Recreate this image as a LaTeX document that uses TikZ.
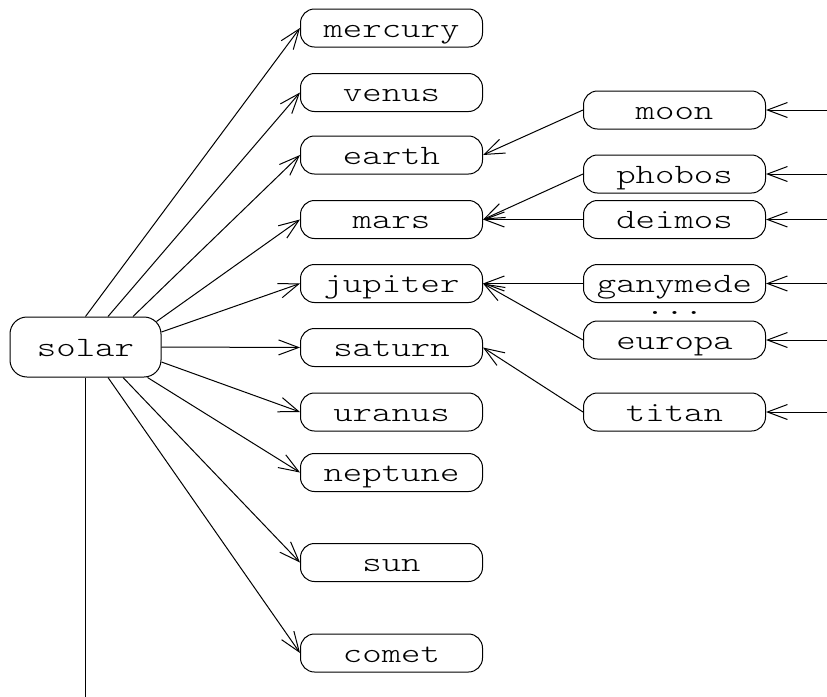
\documentclass[tikz,border=0pt]{standalone}
\usepackage{fontspec}
\setmonofont[FakeStretch=1.32]{Latin Modern Mono Light}
\usetikzlibrary{arrows.meta,calc}
\begin{document}
\begin{tikzpicture}[x=0.5pt,y=-0.5pt,
  lbl/.style={font=\fontsize{14}{16}\selectfont\ttfamily, text height=10pt, text depth=1pt, inner sep=0pt},
  body/.style={lbl, draw, line width=0.5pt, rounded corners=7pt, minimum width=91pt, minimum height=19pt},
  hub/.style={lbl, draw, line width=0.5pt, rounded corners=8.5pt, minimum width=75.5pt, minimum height=30pt},
  link/.style={line width=0.5pt, -{Straight Barb[length=10pt,width=7.5pt]}},
  plain/.style={line width=0.5pt}]
\useasboundingbox (0,0) rectangle (827,697);
% hub
\node[hub] (solar) at (85.5,347) {solar};
% planets
\node[body] (mercury) at (391.5,28) {mercury};
\node[body] (venus) at (391.5,92.5) {venus};
\node[body] (earth) at (391.5,155) {earth};
\node[body] (mars) at (391.5,219.5) {mars};
\node[body] (jupiter) at (391.5,283.5) {jupiter};
\node[body] (saturn) at (391.5,347.5) {saturn};
\node[body] (uranus) at (391.5,412) {uranus};
\node[body] (neptune) at (391.5,472.5) {neptune};
\node[body] (sun) at (391.5,562.5) {sun};
\node[body] (comet) at (391.5,653) {comet};
% moons
\node[body] (moon) at (674.5,110) {moon};
\node[body] (phobos) at (674.5,174) {phobos};
\node[body] (deimos) at (674.5,219.5) {deimos};
\node[body] (ganymede) at (674.5,283.5) {ganymede};
\node[lbl, text height=, text depth=, anchor=base] (dots) at (674.5,314.5) {...};
\node[body] (europa) at (674.5,340) {europa};
\node[body] (titan) at (674.5,412) {titan};
% free ends on the right edge and the bottom
\coordinate (rmoon) at (827,110);
\coordinate (rphobos) at (827,174);
\coordinate (rdeimos) at (827,219.5);
\coordinate (rganymede) at (827,283.5);
\coordinate (reuropa) at (827,340);
\coordinate (rtitan) at (827,412);
\coordinate (tail) at (85.5,697);
% solar to planets
\draw[link] (solar.north) -- (mercury.west);
\draw[link] ($(solar.north)+(22.5,0)$) -- (venus.west);
\draw[link] ($(solar.north)+(47.5,0)$) -- (earth.west);
\draw[link] ($(solar.north east)+(-5,5)$) -- (mars.west);
\draw[link] ($(solar.east)+(0,-15)$) -- (jupiter.west);
\draw[link] (solar.east) -- (saturn.west);
\draw[link] ($(solar.east)+(0,15)$) -- (uranus.west);
\draw[link] ($(solar.south east)+(-14,0)$) -- (neptune.west);
\draw[link] ($(solar.south)+(37.5,0)$) -- (sun.west);
\draw[link] ($(solar.south)+(22.5,0)$) -- (comet.west);
\draw[plain] (solar.south) -- (tail);
% moons to planets
\draw[link] (moon.west) -- (earth.east);
\draw[link] (phobos.west) -- (mars.east);
\draw[link] (deimos.west) -- (mars.east);
\draw[link] (ganymede.west) -- (jupiter.east);
\draw[link] (europa.west) -- (jupiter.east);
\draw[link] (titan.west) -- (saturn.east);
% right edge into moons
\draw[link] (rmoon) -- (moon.east);
\draw[link] (rphobos) -- (phobos.east);
\draw[link] (rdeimos) -- (deimos.east);
\draw[link] (rganymede) -- (ganymede.east);
\draw[link] (reuropa) -- (europa.east);
\draw[link] (rtitan) -- (titan.east);
\end{tikzpicture}
\end{document}
